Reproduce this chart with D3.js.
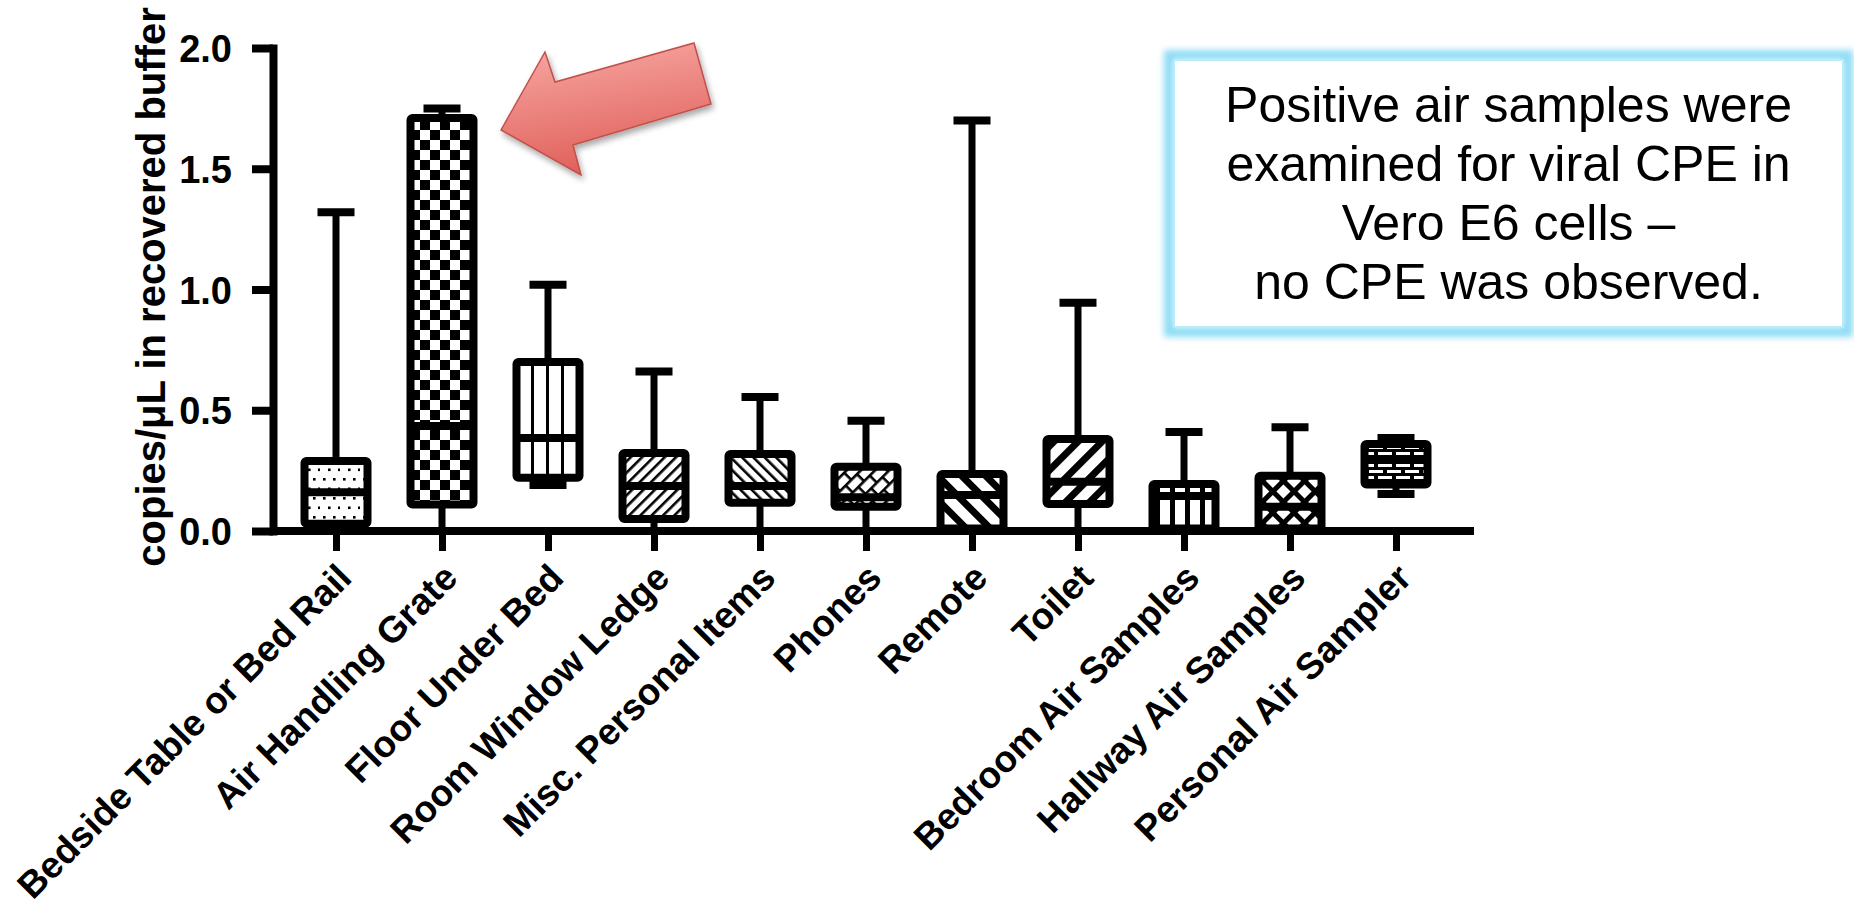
<!DOCTYPE html>
<html><head><meta charset="utf-8">
<script src="https://cdn.jsdelivr.net/npm/d3@7"></script>
<style>body{margin:0;background:#fff;} svg{display:block;}</style>
</head><body><svg id="c" width="1854" height="907"></svg>
<script>
// ---------- data ----------
const categories = ["Bedside Table or Bed Rail","Air Handling Grate","Floor Under Bed","Room Window Ledge","Misc. Personal Items","Phones","Remote","Toilet","Bedroom Air Samples","Hallway Air Samples","Personal Air Sampler"];
const minVals    = [0,    0,     0.19,  0,     0,     0,     0,     0,     0,     0,     0.153];
const q1Vals     = [0.03, 0.11,  0.22,  0.05,  0.117, 0.10,  0.01,  0.112, 0.01,  0.01,  0.193];
const medianVals = [0.16, 0.435, 0.385, 0.186, 0.186, 0.14,  0.149, 0.204, 0.145, 0.10,  0.294];
const q3Vals     = [0.29, 1.71,  0.70,  0.323, 0.319, 0.266, 0.236, 0.381, 0.195, 0.229, 0.36];
const maxVals    = [1.32, 1.75,  1.02,  0.66,  0.555, 0.457, 1.70,  0.945, 0.41,  0.43,  0.385];
const yTicks = [0, 0.5, 1.0, 1.5, 2.0];
const yTickLabels = ["0.0","0.5","1.0","1.5","2.0"];
const yAxisTitle = "copies/\u03BCL in recovered buffer";
const noteLines = ["Positive air samples were","examined for viral CPE in","Vero E6 cells \u2013","no CPE was observed."];
const fills = ["dots","checker","vlines","diagFwd","diagBack","brick","thickBack","thickFwd","vbars","diamond","hbrick"];

// ---------- setup ----------
const FONT = "'Liberation Sans', Arial, Helvetica, sans-serif";
const svg = d3.select("#c");
const defs = svg.append("defs");
const x = d3.scalePoint().domain(categories).range([336, 1396]);
const y = d3.scaleLinear().domain([0, 2]).range([531, 48]);
const yAxisX = 273;

// ---------- patterns ----------
function pat(id, w, h, rot) {
  const p = defs.append("pattern").attr("id", id).attr("patternUnits","userSpaceOnUse")
    .attr("width", w).attr("height", h);
  if (rot) p.attr("patternTransform", `rotate(${rot})`);
  p.append("rect").attr("width", w).attr("height", h).attr("fill", "#fff");
  return p;
}
let p;
p = pat("dots", 20, 19);
[[0,0],[10,0],[5,9.5],[15,9.5]].forEach(([a,b]) => p.append("rect").attr("x",a+3).attr("y",b+3).attr("width",2.6).attr("height",2.6).attr("fill","#000"));
p = pat("checker", 20, 20);
p.append("rect").attr("width",10).attr("height",10).attr("fill","#000");
p.append("rect").attr("x",10).attr("y",10).attr("width",10).attr("height",10).attr("fill","#000");
p = pat("vlines", 15, 10);
p.append("rect").attr("x",6).attr("width",3).attr("height",10).attr("fill","#000");
p = pat("diagFwd", 8, 8, 45);
p.append("rect").attr("width",2.6).attr("height",8).attr("fill","#000");
p = pat("diagBack", 8, 8, -45);
p.append("rect").attr("width",2.6).attr("height",8).attr("fill","#000");
p = pat("brick", 20, 16, 45);
p.append("rect").attr("width",2.6).attr("height",16).attr("fill","#000");
p.append("rect").attr("x",10).attr("width",2.6).attr("height",16).attr("fill","#000");
p.append("rect").attr("y",0).attr("width",10).attr("height",2.6).attr("fill","#000");
p.append("rect").attr("x",10).attr("y",8).attr("width",10).attr("height",2.6).attr("fill","#000");
p = pat("thickBack", 17, 17, -45);
p.append("rect").attr("width",7).attr("height",17).attr("fill","#000");
p = pat("thickFwd", 17, 17, 45);
p.append("rect").attr("width",7).attr("height",17).attr("fill","#000");
p = pat("vbars", 15, 10);
p.append("rect").attr("x",0).attr("width",5).attr("height",10).attr("fill","#000");
p = pat("diamond", 15, 15, 45);
p.append("rect").attr("width",5).attr("height",15).attr("fill","#000");
p.append("rect").attr("width",15).attr("height",5).attr("fill","#000");
p = pat("hbrick", 18, 12);
p.select("rect").attr("fill","#000");
p.append("rect").attr("x",1).attr("y",2).attr("width",14).attr("height",3).attr("fill","#fff");
p.append("rect").attr("x",10).attr("y",8).attr("width",8).attr("height",3).attr("fill","#fff");
p.append("rect").attr("x",0).attr("y",8).attr("width",6).attr("height",3).attr("fill","#fff");

// filters
const glow = defs.append("filter").attr("id","glow").attr("x","-10%").attr("y","-10%").attr("width","120%").attr("height","120%");
glow.append("feGaussianBlur").attr("stdDeviation", 3);
const shadow = defs.append("filter").attr("id","shadow").attr("x","-20%").attr("y","-20%").attr("width","140%").attr("height","140%");
shadow.append("feGaussianBlur").attr("in","SourceAlpha").attr("stdDeviation",3).attr("result","b");
shadow.append("feOffset").attr("in","b").attr("dx",2).attr("dy",4).attr("result","o");
shadow.append("feComponentTransfer").attr("in","o").attr("result","o2").append("feFuncA").attr("type","linear").attr("slope",0.35);
const m = shadow.append("feMerge"); m.append("feMergeNode").attr("in","o2"); m.append("feMergeNode").attr("in","SourceGraphic");
const grad = defs.append("linearGradient").attr("id","arrowGrad").attr("x1","0").attr("y1","0").attr("x2","0.25").attr("y2","1");
grad.append("stop").attr("offset","0%").attr("stop-color","#f9aaa6");
grad.append("stop").attr("offset","100%").attr("stop-color","#e0625c");

// ---------- boxes ----------
const BW = 63, CAP = 37;
const g = svg.append("g");
categories.forEach((c, i) => {
  const cx = x(c);
  const s = g.append("g");
  s.append("line").attr("x1",cx).attr("x2",cx).attr("y1",y(q3Vals[i])).attr("y2",y(maxVals[i])).attr("stroke","#000").attr("stroke-width",7);
  s.append("line").attr("x1",cx).attr("x2",cx).attr("y1",y(q1Vals[i])).attr("y2",y(minVals[i])).attr("stroke","#000").attr("stroke-width",7);
  [maxVals[i], minVals[i]].forEach(v => s.append("line").attr("x1",cx-CAP/2).attr("x2",cx+CAP/2).attr("y1",y(v)).attr("y2",y(v)).attr("stroke","#000").attr("stroke-width",8));
  s.append("rect").attr("x",cx-BW/2).attr("width",BW).attr("y",y(q3Vals[i])).attr("height",y(q1Vals[i])-y(q3Vals[i]))
    .attr("fill",`url(#${fills[i]})`).attr("stroke","#000").attr("stroke-width",8).attr("rx",2);
  s.append("line").attr("x1",cx-BW/2).attr("x2",cx+BW/2).attr("y1",y(medianVals[i])).attr("y2",y(medianVals[i])).attr("stroke","#000").attr("stroke-width",8);
});

// ---------- axes ----------
const yAxis = svg.append("g").attr("transform",`translate(${yAxisX},0)`)
  .call(d3.axisLeft(y).tickValues(yTicks).tickFormat((d,i)=>yTickLabels[i]).tickSize(21).tickSizeOuter(0).tickPadding(20));
yAxis.select(".domain").attr("stroke","#000").attr("stroke-width",8).attr("stroke-linecap","square");
yAxis.selectAll(".tick line").attr("stroke","#000").attr("stroke-width",8);
yAxis.selectAll(".tick text").attr("font-family",FONT).attr("font-weight","bold").attr("font-size",38).attr("fill","#000").attr("dy","0.36em");

const xAxis = svg.append("g").attr("transform",`translate(0,${y(0)})`)
  .call(d3.axisBottom(x).tickSize(20).tickSizeOuter(0));
xAxis.select(".domain").remove();
xAxis.insert("line",":first-child").attr("x1",yAxisX).attr("x2",1474).attr("y1",0).attr("y2",0).attr("stroke","#000").attr("stroke-width",8);
xAxis.selectAll(".tick line").attr("stroke","#000").attr("stroke-width",7);
xAxis.selectAll(".tick text").attr("font-family",FONT).attr("font-weight","bold").attr("font-size",37).attr("fill","#000")
  .attr("x",17).attr("y",49).attr("dy",0).attr("text-anchor","end").attr("transform","rotate(-45,17,49)");

svg.append("text").attr("transform",`translate(165,287) rotate(-90)`).attr("text-anchor","middle")
  .attr("font-family",FONT).attr("font-weight","bold").attr("font-size",40).attr("fill","#000").text(yAxisTitle);

// ---------- arrow ----------
const arrowPts = [[501,130],[545,52],[555,82],[694,43],[711,104],[573,145],[581,175]];
svg.append("polygon").attr("points",arrowPts.map(p=>p.join(",")).join(" "))
  .attr("fill","url(#arrowGrad)").attr("stroke","#c24f4a").attr("stroke-width",1.5).attr("stroke-linejoin","miter").attr("filter","url(#shadow)");

// ---------- note box ----------
const nb = {x:1174, y:60, w:669, h:267};
svg.append("rect").attr("x",nb.x-5).attr("y",nb.y-5).attr("width",nb.w+10).attr("height",nb.h+10)
  .attr("fill","none").attr("stroke","#8fdcf4").attr("stroke-width",10).attr("filter","url(#glow)");
svg.append("rect").attr("x",nb.x).attr("y",nb.y).attr("width",nb.w).attr("height",nb.h).attr("fill","#fff")
  .attr("stroke","#b7ecfa").attr("stroke-width",2);
svg.append("g").selectAll("text").data(noteLines).join("text")
  .attr("x", nb.x + nb.w/2).attr("y",(d,i)=>122 + i*59).attr("text-anchor","middle")
  .attr("font-family",FONT).attr("font-size",50).attr("fill","#000").text(d=>d);
</script></body></html>
